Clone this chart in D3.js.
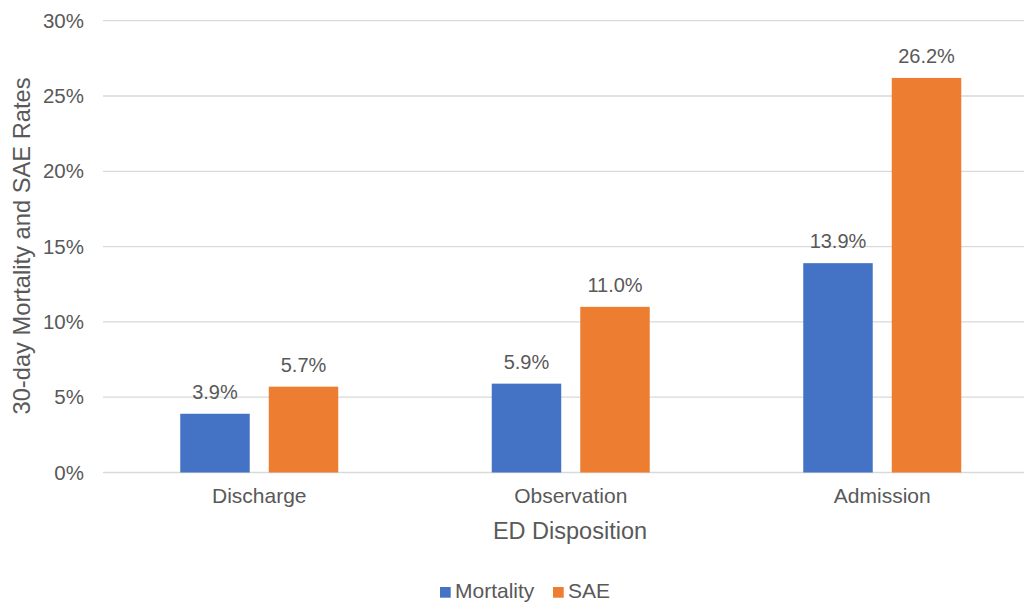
<!DOCTYPE html>
<html>
<head>
<meta charset="utf-8">
<script src="https://cdn.jsdelivr.net/npm/d3@7"></script>
<style>
  body { margin: 0; background: #fff; }
  svg { display: block; font-family: "Liberation Sans", Arial, sans-serif; }
</style>
</head>
<body>
<svg id="chart"></svg>
<script>
// Data
const categories = ["Discharge", "Observation", "Admission"];
const seriesNames = ["Mortality", "SAE"];
const mortality = [3.9, 5.9, 13.9];
const sae = [5.7, 11.0, 26.2];
const yTicks = [0, 5, 10, 15, 20, 25, 30];

const colors = { Mortality: "#4472C4", SAE: "#ED7D31" };
const textColor = "#595959";

const width = 1024;
const height = 602;
const svg = d3.select("#chart").attr("width", width).attr("height", height);

const rows = categories.map((c, i) => ({
    category: c,
    values: [
        { key: "Mortality", value: mortality[i] },
        { key: "SAE", value: sae[i] }
    ]
}));

// Scales
const x0 = d3.scaleBand().domain(categories).range([103.5, 1038]).paddingInner(0);
const groupW = 158;
const x1 = d3.scaleBand()
    .domain(seriesNames)
    .range([x0.bandwidth() / 2 - groupW / 2, x0.bandwidth() / 2 + groupW / 2])
    .paddingInner(0.215);
const y = d3.scaleLinear().domain([0, 30]).range([472.5, 20.7]);

// Gridlines
svg.append("g")
    .selectAll("line")
    .data(yTicks)
    .join("line")
    .attr("x1", 103)
    .attr("x2", width)
    .attr("y1", (d) => y(d))
    .attr("y2", (d) => y(d))
    .attr("stroke", "#D9D9D9")
    .attr("stroke-width", 1.3);

// Y axis labels
const yAxis = svg.append("g")
    .attr("transform", "translate(84,0)")
    .call(d3.axisLeft(y).tickValues(yTicks).tickFormat((d) => d + "%").tickSize(0).tickPadding(0));
yAxis.select(".domain").remove();
yAxis.selectAll("text")
    .attr("fill", textColor)
    .attr("font-size", 20.5)
    .attr("font-family", "Liberation Sans, Arial, sans-serif");

// X axis labels
const xAxis = svg.append("g")
    .attr("transform", "translate(0,472.5)")
    .call(d3.axisBottom(x0).tickSize(0).tickPadding(16));
xAxis.select(".domain").remove();
xAxis.selectAll("text")
    .attr("fill", textColor)
    .attr("font-size", 21)
    .attr("font-family", "Liberation Sans, Arial, sans-serif");

// Bars
const groups = svg.append("g")
    .selectAll("g")
    .data(rows)
    .join("g")
    .attr("transform", (d) => `translate(${x0(d.category)},0)`);

groups.selectAll("rect")
    .data((d) => d.values)
    .join("rect")
    .attr("x", (d) => x1(d.key))
    .attr("y", (d) => y(d.value))
    .attr("width", x1.bandwidth())
    .attr("height", (d) => y(0) - y(d.value))
    .attr("fill", (d) => colors[d.key]);

groups.selectAll("text")
    .data((d) => d.values)
    .join("text")
    .attr("x", (d) => x1(d.key) + x1.bandwidth() / 2)
    .attr("y", (d) => y(d.value) - 15)
    .attr("text-anchor", "middle")
    .attr("fill", textColor)
    .attr("font-size", 20)
    .text((d) => d.value.toFixed(1) + "%");

// Axis titles
svg.append("text")
    .attr("x", 570)
    .attr("y", 539)
    .attr("text-anchor", "middle")
    .attr("fill", textColor)
    .attr("font-size", 23.5)
    .text("ED Disposition");

svg.append("text")
    .attr("transform", "translate(30,246) rotate(-90)")
    .attr("text-anchor", "middle")
    .attr("fill", textColor)
    .attr("font-size", 23.7)
    .text("30-day Mortality and SAE Rates");

// Legend
const legendPos = [{ key: "Mortality", x: 440 }, { key: "SAE", x: 553 }];
const legend = svg.append("g")
    .selectAll("g")
    .data(legendPos)
    .join("g")
    .attr("transform", (d) => `translate(${d.x},587)`);
legend.append("rect")
    .attr("width", 10.7)
    .attr("height", 10.7)
    .attr("fill", (d) => colors[d.key]);
legend.append("text")
    .attr("x", 15)
    .attr("y", 11)
    .attr("fill", textColor)
    .attr("font-size", 21)
    .text((d) => d.key);
</script>
</body>
</html>
